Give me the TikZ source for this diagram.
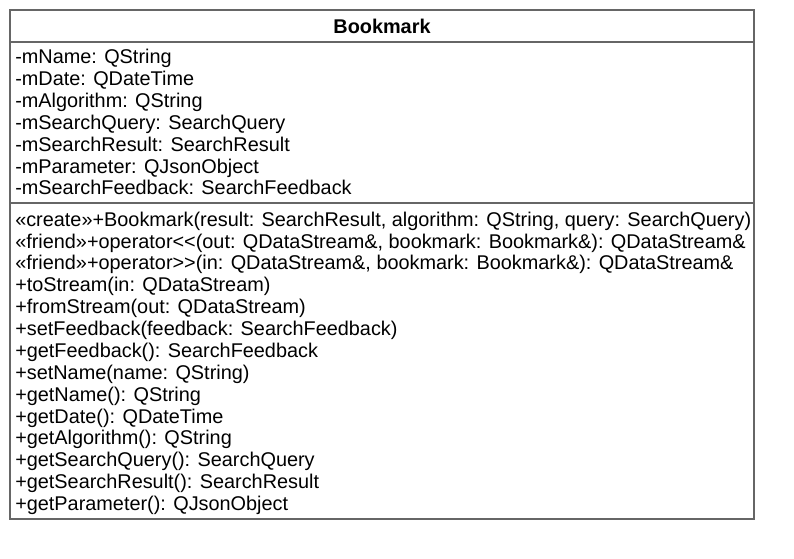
\documentclass[tikz,border=0pt]{standalone}
\usepackage{fontspec}
\setmainfont{Liberation Sans}
\usetikzlibrary{positioning}
\tikzset{
  umlframe/.style={draw=black!60, line width=0.9pt},
  umltitle/.style={font=\bfseries\fontsize{14.9}{16.5}\selectfont, inner sep=0pt},
  umlrows/.style={anchor=base west, align=left, inner sep=0pt, font=\fontsize{14.9}{16.4}\selectfont}
}
\begin{document}
\begin{tikzpicture}[x=0.75pt, y=-0.75pt]
\useasboundingbox (0,0) rectangle (794,559);
% class box and compartments
\coordinate (topleft) at (10,10);
\coordinate (botright) at (754,519);
\draw[umlframe] (topleft) rectangle (botright);
\draw[umlframe] (10,42) -- (754,42);
\draw[umlframe] (10,203) -- (754,203);
\node[umltitle] (title) at (382,26.5) {Bookmark};
% attributes (anchored at the last line)
\node[umlrows] (attrs) at (15,195) {-mName: QString\\
-mDate: QDateTime\\
-mAlgorithm: QString\\
-mSearchQuery: SearchQuery\\
-mSearchResult: SearchResult\\
-mParameter: QJsonObject\\
-mSearchFeedback: SearchFeedback};
% operations
\node[umlrows] (ops) at (15,510.5) {«create»+Bookmark(result: SearchResult, algorithm: QString, query: SearchQuery)\\
«friend»+operator<\kern0pt<(out: QDataStream\&, bookmark: Bookmark\&): QDataStream\&\\
«friend»+operator>\kern0pt>(in: QDataStream\&, bookmark: Bookmark\&): QDataStream\&\\
+toStream(in: QDataStream)\\
+fromStream(out: QDataStream)\\
+setFeedback(feedback: SearchFeedback)\\
+getFeedback(): SearchFeedback\\
+setName(name: QString)\\
+getName(): QString\\
+getDate(): QDateTime\\
+getAlgorithm(): QString\\
+getSearchQuery(): SearchQuery\\
+getSearchResult(): SearchResult\\
+getParameter(): QJsonObject};
\end{tikzpicture}
\end{document}
